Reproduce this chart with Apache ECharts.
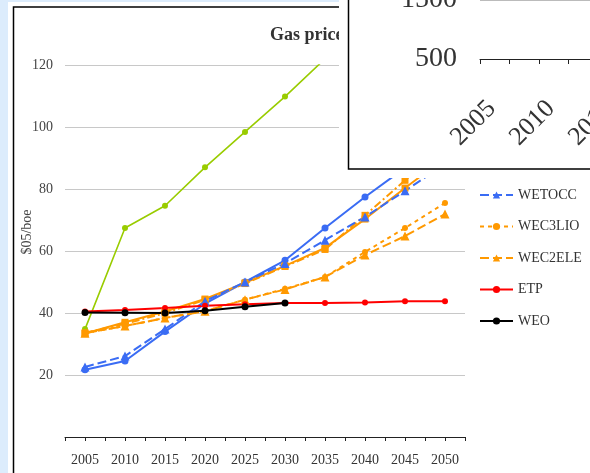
<!DOCTYPE html>
<html>
<head>
<meta charset="utf-8">
<script src="https://cdn.jsdelivr.net/npm/echarts@6/dist/echarts.min.js"></script>
<style>
  html, body { margin: 0; padding: 0; background: #dcecfc; }
  #chart { width: 590px; height: 473px; }
</style>
</head>
<body>
<div id="chart"></div>
<script>
// Projection years (x axis) and gas price scenarios, $05/boe
const years = [2005, 2010, 2015, 2020, 2025, 2030, 2035, 2040, 2045, 2050];

const wetoRef  = [34.8, 67.4, 74.6, 87.0, 98.4, 109.8, 122.0];
const wetoH2   = [21.7, 24.5, 34.0, 43.0, 50.0, 57.0, 67.4, 77.4, 86.8, 96.0];
const wetocc   = [22.6, 26.1, 34.8, 43.8, 50.0, 56.0, 63.5, 71.0, 79.4, 88.0];
const wec1Leo  = [33.4, 37.0, 40.5, 44.5, 49.7, 55.2, 61.0, 70.3, 80.3, 90.0];
const wec4Gir  = [33.6, 36.5, 40.0, 44.2, 49.5, 55.0, 60.5, 71.5, 82.8, 94.0];
const wec3lio  = [33.5, 35.8, 38.4, 40.6, 44.3, 47.8, 51.6, 59.7, 67.4, 75.5];
const wec2ele  = [33.5, 35.8, 38.4, 40.6, 44.3, 47.6, 51.6, 58.7, 64.8, 71.9];
const etp      = [40.5, 41.0, 41.6, 42.3, 42.8, 43.2, 43.2, 43.4, 43.8, 43.8];
const weo      = [40.2, 40.1, 40.0, 40.7, 42.0, 43.2];

// Value ticks
const yTicksMain = { min: 0, max: 120, interval: 20 };
const insetTicks = { min: 500, max: 1500, interval: 1000 };

const SERIF = "'Liberation Serif', 'Times New Roman', 'DejaVu Serif', serif";
const BLUE = '#3a6cf4', GREEN = '#99cc00', ORANGE = '#ff9900', RED = '#ff0000', BLACK = '#000000';

function pairs(vals) { return vals.map((v, i) => [years[i], v]); }

function line(name, vals, color, symbol, size, dash, width) {
  return {
    name: name,
    type: 'line',
    xAxisIndex: 0,
    yAxisIndex: 0,
    data: pairs(vals),
    symbol: symbol,
    symbolSize: size,
    clip: true,
    lineStyle: { color: color, width: width || 2, type: dash || 'solid' },
    itemStyle: { color: color },
    emphasis: { disabled: true },
    animation: false
  };
}

const series = [
  line('WETOREF', wetoRef, GREEN, 'circle', 6, 'solid', 1.6),
  line('WETOH2', wetoH2, BLUE, 'circle', 7, 'solid'),
  line('WEC1LEO', wec1Leo, ORANGE, 'rect', 7, 'solid'),
  line('WEC4GIR', wec4Gir, ORANGE, 'rect', 7, [8, 3, 2, 3]),
  line('WETOCC', wetocc, BLUE, 'triangle', 9, [9, 4]),
  line('WEC3LIO', wec3lio, ORANGE, 'circle', 6, [4, 4]),
  line('WEC2ELE', wec2ele, ORANGE, 'triangle', 9, [9, 4]),
  line('ETP', etp, RED, 'circle', 6, 'solid'),
  line('WEO', weo, BLACK, 'circle', 7, 'solid')
];

const chart = echarts.init(document.getElementById('chart'), null, { renderer: 'canvas' });

chart.setOption({
  backgroundColor: '#dcecfc',
  animation: false,
  title: {
    text: 'Gas prices',
    left: 270,
    top: 26,
    padding: 0,
    textStyle: { fontFamily: SERIF, fontSize: 18, fontWeight: 'bold', color: '#333' }
  },
  legend: {
    orient: 'vertical',
    left: 479,
    top: 61,
    padding: 0,
    itemWidth: 33,
    itemHeight: 9,
    itemGap: 15.5,
    selectedMode: false,
    textStyle: { fontFamily: SERIF, fontSize: 14, color: '#333', lineHeight: 16 },
    data: series.map(s => s.name)
  },
  grid: [
    { left: 65, top: 65, width: 400, height: 372, outerBoundsMode: 'none', containLabel: false },
    { left: 480, top: 0, width: 590, height: 59, outerBoundsMode: 'none', containLabel: false }
  ],
  xAxis: [
    {
      type: 'value', gridIndex: 0,
      min: 2002.5, max: 2052.5, interval: 2.5,
      axisLine: { show: true, lineStyle: { color: '#222', width: 1 } },
      axisTick: { show: true, length: 4, lineStyle: { color: '#222' } },
      splitLine: { show: false },
      axisLabel: {
        margin: 16,
        fontFamily: SERIF, fontSize: 14, color: '#333',
        formatter: v => (v % 5 === 0 ? String(v) : '')
      }
    },
    {
      type: 'value', gridIndex: 1, z: 60,
      min: 2002.5, max: 2052.5, interval: 2.5,
      axisLine: { show: true, lineStyle: { color: '#222', width: 1 } },
      axisTick: { show: true, length: 5, lineStyle: { color: '#222' } },
      splitLine: { show: false },
      axisLabel: {
        rotate: 45, margin: 28, padding: [0, 25, 0, 0],
        fontFamily: SERIF, fontSize: 26, color: '#333',
        formatter: v => (v % 5 === 0 ? String(v) : '')
      }
    }
  ],
  yAxis: [
    {
      type: 'value', gridIndex: 0,
      min: yTicksMain.min, max: yTicksMain.max, interval: yTicksMain.interval,
      name: '$05/boe',
      nameLocation: 'middle',
      nameGap: 31,
      nameMoveOverlap: false,
      nameTextStyle: { fontFamily: SERIF, fontSize: 14, color: '#444', padding: [0, 0, 0, 38] },
      axisLine: { show: false },
      axisTick: { show: false },
      splitLine: { show: true, lineStyle: { color: '#c8c8c8', width: 1 } },
      axisLabel: {
        margin: 12, showMinLabel: false,
        fontFamily: SERIF, fontSize: 14, color: '#444'
      }
    },
    {
      type: 'value', gridIndex: 1, z: 60,
      min: insetTicks.min, max: insetTicks.max, interval: insetTicks.interval,
      axisLine: { show: false },
      axisTick: { show: false },
      splitLine: { show: true, lineStyle: { color: '#bbbbbb', width: 1 } },
      axisLabel: {
        margin: 23, fontFamily: SERIF, fontSize: 28, color: '#333',
        formatter: v => String(v)
      }
    }
  ],
  graphic: [
    { type: 'rect', z: -20, silent: true, shape: { x: 8, y: 2, width: 700, height: 600 }, style: { fill: '#ffffff' } },
    { type: 'rect', z: -19, silent: true, shape: { x: 13.5, y: 7, width: 700, height: 600 }, style: { fill: 'none', stroke: '#000', lineWidth: 1.5 } },
    { type: 'rect', z: 50, silent: true, shape: { x: 339, y: -10, width: 300, height: 188 }, style: { fill: '#ffffff' } },
    { type: 'rect', z: 51, silent: true, shape: { x: 348.5, y: -10, width: 300, height: 179 }, style: { fill: '#ffffff', stroke: '#000', lineWidth: 1.5 } }
  ],
  series: series
});
</script>
</body>
</html>
